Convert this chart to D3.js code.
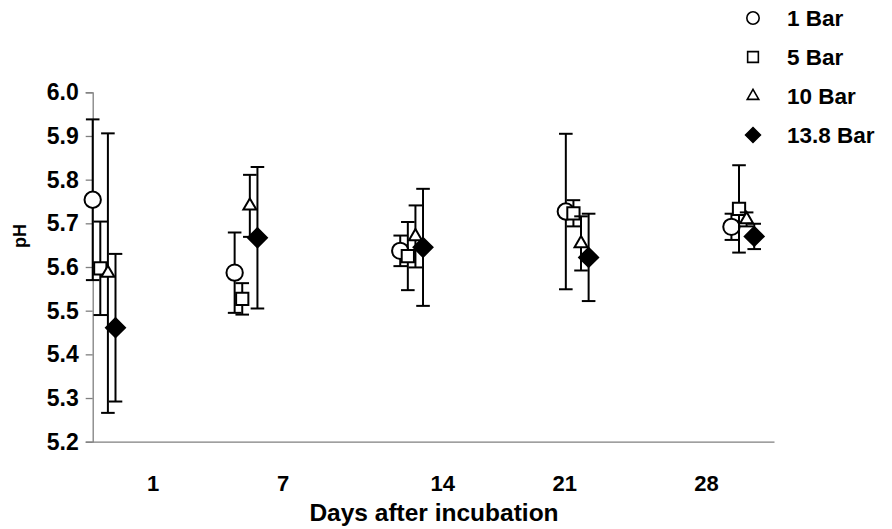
<!DOCTYPE html>
<html>
<head>
<meta charset="utf-8">
<script src="https://cdn.jsdelivr.net/npm/d3@7/dist/d3.min.js"></script>
<style>
  html, body { margin: 0; padding: 0; background: #fff; }
  svg { display: block; font-family: "Liberation Sans", Arial, sans-serif; font-weight: bold; }
</style>
</head>
<body>
<svg id="chart" width="892" height="529"></svg>
<script>
// ---- data ----
const days = [1, 7, 14, 21, 28];
const seriesNames = ["1 Bar", "5 Bar", "10 Bar", "13.8 Bar"];
const seriesShapes = ["circle", "square", "triangle", "diamond"];
const mean1 = [5.754, 5.587, 5.637, 5.727, 5.692];
const err1  = [0.184, 0.092, 0.035, 0.178, 0.030];
const mean5 = [5.597, 5.527, 5.625, 5.723, 5.733];
const err5  = [0.107, 0.036, 0.078, 0.030, 0.100];
const mean10 = [5.586, 5.740, 5.670, 5.654, 5.709];
const err10  = [0.320, 0.071, 0.071, 0.062, 0.016];
const mean138 = [5.461, 5.667, 5.645, 5.622, 5.670];
const err138  = [0.169, 0.162, 0.134, 0.100, 0.029];
const yTicks = [5.2, 5.3, 5.4, 5.5, 5.6, 5.7, 5.8, 5.9, 6.0];
const xTickLabels = ["1", "7", "14", "21", "28"];
const xTickLabelAt = [3.55, 9.05, 15.8, 20.95, 26.95]; // where the typed labels sit along the day axis
const xTitle = "Days after incubation";
const yTitle = "pH";

const means = [mean1, mean5, mean10, mean138];
const errs = [err1, err5, err10, err138];

// ---- layout ----
const svg = d3.select("#chart");
const x0 = 92.7, yTop = 92.3, yBot = 441.7;
const x = d3.scaleLinear().domain([1, 29.8]).range([x0, 774]);
const y = d3.scaleLinear().domain([5.2, 6.0]).range([yBot, yTop]);
const dodge = d3.scaleLinear().domain([0, 3]).range([0, 22.8]);
const axisColor = "#7f7f7f";

// y axis
const yAxis = d3.axisLeft(y).tickValues(yTicks).tickFormat(d3.format(".1f"))
  .tickSize(7).tickPadding(7);
const gy = svg.append("g").attr("transform", `translate(${x0},0)`).call(yAxis);
gy.select(".domain").attr("stroke", axisColor).attr("stroke-width", 1.3);
gy.selectAll(".tick line").attr("stroke", axisColor).attr("stroke-width", 1.3);
gy.selectAll(".tick text").attr("fill", "#000").style("font-size", "23px")
  .style("font-weight", "bold").style("font-family", "'Liberation Sans', Arial, sans-serif");

// x axis line (no ticks)
const xAxis = d3.axisBottom(x).tickValues([]).tickSizeOuter(0);
const gx = svg.append("g").attr("transform", `translate(0,${yBot})`).call(xAxis);
gx.select(".domain").attr("stroke", axisColor).attr("stroke-width", 1.3);

// x tick labels
svg.append("g").selectAll("text").data(xTickLabels).join("text")
  .attr("x", (d, i) => x(xTickLabelAt[i]))
  .attr("y", 491)
  .attr("text-anchor", "middle")
  .style("font-size", "22px")
  .text(d => d);

// titles
svg.append("text").attr("x", 434).attr("y", 521).attr("text-anchor", "middle")
  .style("font-size", "24.5px").text(xTitle);
svg.append("text").attr("transform", "translate(26,236) rotate(-90)")
  .attr("text-anchor", "middle").style("font-size", "18px").text(yTitle);

// symbols
const symType = {
  circle: d3.symbolCircle, square: d3.symbolSquare,
  triangle: d3.symbolTriangle2, diamond: d3.symbolDiamond2
};
const symFill = { circle: "#fff", square: "#fff", triangle: "#fff", diamond: "#000" };
const symSize = { circle: 210, square: 150, triangle: 120, diamond: 230 };
const legSize = { circle: 120, square: 115, triangle: 95, diamond: 140 };

const capHalf = 6.8;
seriesNames.forEach((name, s) => {
  const g = svg.append("g");
  const pts = days.map((d, i) => ({ day: d, m: means[s][i], e: errs[s][i] }));
  const px = d => x(d.day) + dodge(s);
  // error bars
  const eb = g.selectAll("g.eb").data(pts).join("g").attr("class", "eb")
    .attr("stroke", "#000").attr("stroke-width", 2);
  eb.append("line").attr("x1", px).attr("x2", px)
    .attr("y1", d => y(d.m + d.e)).attr("y2", d => y(d.m - d.e));
  eb.append("line").attr("x1", d => px(d) - capHalf).attr("x2", d => px(d) + capHalf)
    .attr("y1", d => y(d.m + d.e)).attr("y2", d => y(d.m + d.e));
  eb.append("line").attr("x1", d => px(d) - capHalf).attr("x2", d => px(d) + capHalf)
    .attr("y1", d => y(d.m - d.e)).attr("y2", d => y(d.m - d.e));
  // markers
  const shape = seriesShapes[s];
  g.selectAll("path.mk").data(pts).join("path").attr("class", "mk")
    .attr("d", d3.symbol().type(symType[shape]).size(symSize[shape]))
    .attr("transform", d => `translate(${px(d)},${y(d.m)})`)
    .attr("fill", symFill[shape]).attr("stroke", "#000").attr("stroke-width", 2);
});

// legend
const leg = svg.append("g");
const legRow = d3.scaleLinear().domain([0, 3]).range([18, 135]);
seriesNames.forEach((name, s) => {
  const shape = seriesShapes[s];
  leg.append("path")
    .attr("d", d3.symbol().type(symType[shape]).size(legSize[shape]))
    .attr("transform", `translate(753,${legRow(s)})`)
    .attr("fill", symFill[shape]).attr("stroke", "#000").attr("stroke-width", 1.6);
  leg.append("text").attr("x", 787).attr("y", legRow(s)).attr("dy", "0.36em")
    .style("font-size", "22.5px").text(name);
});
</script>
</body>
</html>
